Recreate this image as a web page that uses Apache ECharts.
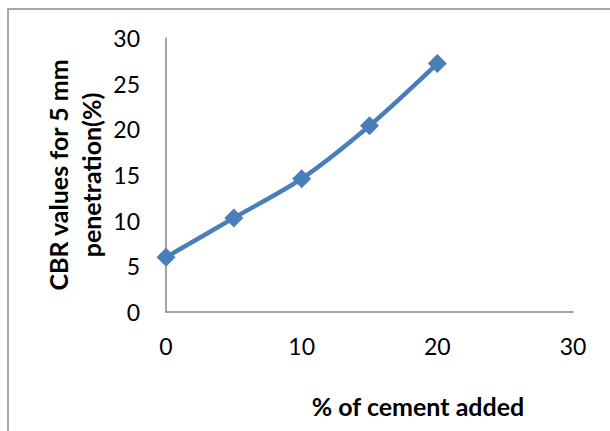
<!DOCTYPE html>
<html>
<head>
<meta charset="utf-8">
<script src="https://cdn.jsdelivr.net/npm/echarts@6/dist/echarts.min.js"></script>
<style>
html,body{margin:0;padding:0;background:#fff;}
#chart{width:610px;height:431px;}
</style>
</head>
<body>
<div id="chart"></div>
<script>
const cementPct = [0, 5, 10, 15, 20];
const cbrValues = [6.0, 10.3, 14.6, 20.4, 27.2];
const xTitle = '% of cement added';
const yTitleLines = ['CBR values for 5 mm', 'penetration(%)'];

const chart = echarts.init(document.getElementById('chart'), null, {renderer: 'svg'});
const fontFam = 'Lato, "Open Sans", sans-serif';
const option = {
  animation: false,
  backgroundColor: '#fff',
  grid: {left: 166, right: 37, top: 38, bottom: 119},
  xAxis: {
    type: 'value', min: 0, max: 30, interval: 10,
    axisLine: {show: true, lineStyle: {color: '#868686', width: 1.5}},
    axisTick: {show: false},
    splitLine: {show: false},
    axisLabel: {color: '#000', fontSize: 23, fontFamily: fontFam, margin: 22}
  },
  yAxis: {
    type: 'value', min: 0, max: 30, interval: 5,
    axisLine: {show: true, lineStyle: {color: '#868686', width: 1.5}},
    axisTick: {show: false},
    splitLine: {show: false},
    axisLabel: {color: '#000', fontSize: 23, fontFamily: fontFam, margin: 26}
  },
  series: [{
    type: 'line',
    data: cementPct.map((x, i) => [x, cbrValues[i]]),
    smooth: 0.3,
    symbol: 'diamond',
    symbolSize: 19,
    lineStyle: {color: '#4a7ebb', width: 4.5},
    itemStyle: {color: '#4a7ebb'}
  }],
  graphic: [
    {type: 'rect', shape: {x: 8, y: 9, width: 800, height: 600},
     style: {fill: 'none', stroke: '#8a8a8a', lineWidth: 1.5}, z: -1},
    {type: 'text', x: 418, y: 406,
     style: {text: xTitle, font: 'bold 25px ' + fontFam, fill: '#000', textAlign: 'center', textVerticalAlign: 'middle'}},
    {type: 'text', x: 58, y: 175, rotation: Math.PI / 2,
     style: {text: yTitleLines[0], font: 'bold 25px ' + fontFam, fill: '#000', textAlign: 'center', textVerticalAlign: 'middle'}},
    {type: 'text', x: 91, y: 175, rotation: Math.PI / 2,
     style: {text: yTitleLines[1], font: 'bold 25px ' + fontFam, fill: '#000', textAlign: 'center', textVerticalAlign: 'middle'}}
  ]
};
chart.setOption(option);
</script>
</body>
</html>
